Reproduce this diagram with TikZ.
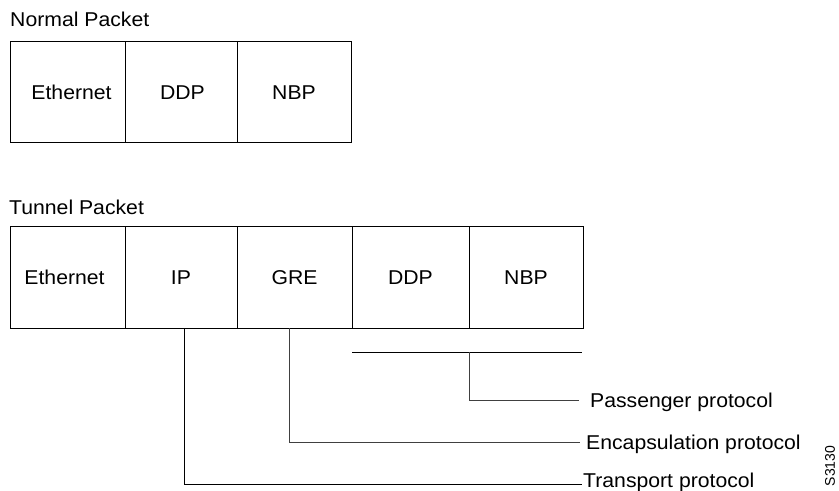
\documentclass[tikz,border=0pt]{standalone}
\usepackage{fontspec}
\setmainfont{Liberation Sans}[FakeStretch=1.06]
\newfontfamily\plainsans{Liberation Sans}
\begin{document}
\begin{tikzpicture}[x=1bp,y=-1bp,
  font=\fontsize{20bp}{24bp}\selectfont,
  cell/.style={draw=black, line width=1bp, minimum height=101bp, inner sep=0pt, outer sep=0pt, anchor=north west},
  conn/.style={line width=1bp, draw=black!75},
  title/.style={anchor=base west, inner sep=0pt},
  lbl/.style={anchor=base west, inner sep=0pt}]
\useasboundingbox (0,0) rectangle (839,491);

% Normal packet
\node[title] (ntitle) at (10,27) {Normal Packet};
\node[cell, minimum width=115bp] (neth) at (10,42) {\hspace*{8bp}\raisebox{-2bp}{Ethernet}};
\node[cell, minimum width=112bp] (nddp) at (125,42) {\hspace*{3bp}\raisebox{-2bp}{DDP}};
\node[cell, minimum width=114bp] (nnbp) at (237,42) {\raisebox{-2bp}{NBP}};

% Tunnel packet
\node[title] (ttitle) at (9,215) {Tunnel Packet};
\node[cell, minimum width=115bp] (teth) at (10,227) {\hspace*{-6bp}\raisebox{-2bp}{Ethernet}};
\node[cell, minimum width=112bp] (tip)  at (125,227) {\raisebox{-2bp}{IP}};
\node[cell, minimum width=115bp] (tgre) at (237,227) {\raisebox{-2bp}{GRE}};
\node[cell, minimum width=117bp] (tddp) at (352,227) {\raisebox{-2bp}{DDP}};
\node[cell, minimum width=114bp] (tnbp) at (469,227) {\raisebox{-2bp}{NBP}};

% Labels
\node[lbl] (pass) at (590,407) {Passenger protocol};
\node[lbl] (enc)  at (586,449) {Encapsulation protocol};
\node[lbl] (tra)  at (583,487) {Transport protocol};
\node[rotate=90, inner sep=0pt, font=\plainsans\fontsize{14bp}{16bp}\selectfont] (id) at (830,466) {S3130};

% Connectors
\coordinate (pbl) at (352,352);
\coordinate (pbr) at (582,352);
\coordinate (pbm) at (469,352);
\coordinate (pend) at (579,400);
\coordinate (eend) at (580,442);
\coordinate (tend) at (582,484);
\draw[line width=1bp, black] (pbl) -- (pbr);
\draw[conn] (pbm) |- (pend);
\draw[conn] ([xshift=-5.5bp]tgre.south) |- (eend);
\draw[line width=1bp, black] ([xshift=3bp]tip.south) |- (tend);
\end{tikzpicture}
\end{document}
